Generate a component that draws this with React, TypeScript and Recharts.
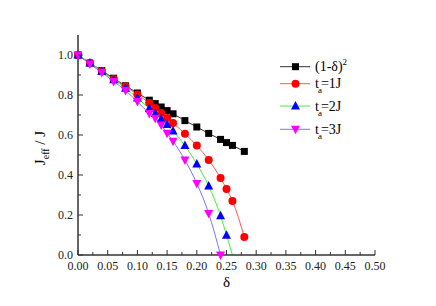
import { Label, Line, LineChart, XAxis, YAxis } from "recharts";

const delta = [0, 0.02, 0.04, 0.06, 0.08, 0.1, 0.12, 0.13, 0.14, 0.15, 0.16, 0.18, 0.2, 0.22, 0.24, 0.25, 0.26, 0.28];
const square = [1.0, 0.96, 0.922, 0.884, 0.846, 0.81, 0.774, 0.757, 0.74, 0.722, 0.706, 0.672, 0.64, 0.608, 0.578, 0.562, 0.548, 0.518];
const ta1 = [1.0, 0.96, 0.92, 0.88, 0.842, 0.803, 0.76, 0.735, 0.71, 0.685, 0.66, 0.606, 0.547, 0.475, 0.385, 0.33, 0.27, 0.09];

const delta2 = [0, 0.02, 0.04, 0.06, 0.08, 0.1, 0.12, 0.13, 0.14, 0.15, 0.16, 0.18, 0.2, 0.22, 0.24, 0.25, 0.26];
const ta2 = [1.0, 0.96, 0.918, 0.876, 0.834, 0.785, 0.733, 0.708, 0.68, 0.652, 0.62, 0.547, 0.455, 0.345, 0.196, 0.099, 0];

const delta3 = [0, 0.02, 0.04, 0.06, 0.08, 0.1, 0.12, 0.13, 0.14, 0.15, 0.16, 0.18, 0.2, 0.22, 0.24];
const ta3 = [1.0, 0.955, 0.913, 0.868, 0.822, 0.767, 0.708, 0.684, 0.65, 0.609, 0.569, 0.475, 0.358, 0.208, 0];

const xTicks = [0, 0.025, 0.05, 0.075, 0.1, 0.125, 0.15, 0.175, 0.2, 0.225, 0.25, 0.275, 0.3, 0.325, 0.35, 0.375, 0.4, 0.425, 0.45, 0.475, 0.5];
const yTicks = [0, 0.1, 0.2, 0.3, 0.4, 0.5, 0.6, 0.7, 0.8, 0.9, 1.0];

const toRows = (xs: number[], ys: number[]) => xs.map((d, i) => ({ d, v: ys[i] }));

const SERIF = { fontFamily: "'Liberation Serif', 'Times New Roman', serif" };
const AXIS = "#333";

const isMajorX = (v: number) => Math.round(v * 1000) % 50 === 0;
const isMajorY = (v: number) => Math.round(v * 10) % 2 === 0;

const Square = ({ cx, cy }: { cx: number; cy: number }) => (
  <rect x={cx - 3.5} y={cy - 3.5} width={7} height={7} fill="#000" />
);
const Dot = ({ cx, cy }: { cx: number; cy: number }) => <circle cx={cx} cy={cy} r={4} fill="#ff0000" />;
const TriUp = ({ cx, cy }: { cx: number; cy: number }) => (
  <polygon points={`${cx},${cy - 5} ${cx - 4.5},${cy + 3.5} ${cx + 4.5},${cy + 3.5}`} fill="#0000ff" />
);
const TriDown = ({ cx, cy }: { cx: number; cy: number }) => (
  <polygon points={`${cx - 4.5},${cy - 3.5} ${cx + 4.5},${cy - 3.5} ${cx},${cy + 5}`} fill="#ff00ff" />
);

const BottomTick = ({ x, y, payload }: any) => {
  const major = isMajorX(payload.value);
  return (
    <g>
      <line x1={x} x2={x} y1={y} y2={y - (major ? 5 : 3)} stroke={AXIS} />
      {major && (
        <text x={x} y={y + 6.5} dy="0.71em" textAnchor="middle" style={SERIF} fontSize={12} fill="#222">
          {payload.value.toFixed(2)}
        </text>
      )}
    </g>
  );
};
const TopTick = ({ x, y, payload }: any) => (
  <line x1={x} x2={x} y1={y} y2={y + (isMajorX(payload.value) ? 5 : 3)} stroke={AXIS} />
);
const LeftTick = ({ x, y, payload }: any) => {
  const major = isMajorY(payload.value);
  return (
    <g>
      <line x1={x} x2={x + (major ? 5 : 3)} y1={y} y2={y} stroke={AXIS} />
      {major && (
        <text x={x - 5} y={y - 0.5} dy="0.355em" textAnchor="end" style={SERIF} fontSize={12} fill="#222">
          {payload.value.toFixed(1)}
        </text>
      )}
    </g>
  );
};
const RightTick = ({ x, y, payload }: any) => (
  <line x1={x} x2={x - (isMajorY(payload.value) ? 5 : 3)} y1={y} y2={y} stroke={AXIS} />
);

const YTitle = ({ viewBox }: any) => {
  const cx = viewBox.x + 45;
  const cy = viewBox.y + viewBox.height / 2 + 3;
  return (
    <text transform={`rotate(-90 ${cx} ${cy})`} x={cx} y={cy} textAnchor="middle" style={SERIF} fontSize={15} fill="#000">
      J
      <tspan fontSize={10} dy={4}>eff</tspan>
      <tspan dy={-4}> / J</tspan>
    </text>
  );
};

const XTitle = ({ viewBox }: any) => (
  <text x={viewBox.x + viewBox.width / 2} y={viewBox.y + 32} textAnchor="middle" style={SERIF} fontSize={15} fill="#000">
    δ
  </text>
);

const legendRows = [
  { y: 66.7, color: "#333", Marker: Square, label: "(1-δ)", sup: "2" },
  { y: 83.7, color: "#ff5555", Marker: Dot, label: "t", sub: "a", rest: "=1J" },
  { y: 106, color: "#44ee44", Marker: TriUp, label: "t", sub: "a", rest: "=2J" },
  { y: 129.3, color: "#7777ff", Marker: TriDown, label: "t", sub: "a", rest: "=3J" },
];

const lineProps = { isAnimationActive: false, strokeWidth: 1, type: "monotone" as const, dataKey: "v", xAxisId: "b", yAxisId: "l" };

export default function App() {
  return (
    <div style={{ position: "absolute", left: 0, top: 0, width: 436, height: 306, background: "#fff" }}>
      <LineChart width={436} height={306} margin={{ top: 35, right: 61, bottom: 11, left: 0 }}>
        <XAxis xAxisId="b" type="number" dataKey="d" domain={[0, 0.5]} ticks={xTicks} interval={0} height={40}
          tickSize={0} tickMargin={0} tickLine={false} tick={<BottomTick />} axisLine={{ stroke: AXIS, strokeWidth: 1.5 }}>
          <Label content={<XTitle />} />
        </XAxis>
        <XAxis xAxisId="t" orientation="top" type="number" domain={[0, 0.5]} ticks={xTicks} interval={0} height={0}
          tickSize={0} tickMargin={0} tickLine={false} tick={<TopTick />} axisLine={{ stroke: AXIS, strokeWidth: 1.5 }} />
        <YAxis yAxisId="l" type="number" domain={[0, 1.1]} ticks={yTicks} interval={0} width={78}
          tickSize={0} tickMargin={0} tickLine={false} tick={<LeftTick />} axisLine={{ stroke: AXIS, strokeWidth: 1.5 }}>
          <Label content={<YTitle />} />
        </YAxis>
        <YAxis yAxisId="r" orientation="right" type="number" domain={[0, 1.1]} ticks={yTicks} interval={0} width={0}
          tickSize={0} tickMargin={0} tickLine={false} tick={<RightTick />} axisLine={{ stroke: AXIS, strokeWidth: 1.5 }} />
        <Line {...lineProps} data={toRows(delta, square)} stroke="#333"
          dot={(p: any) => <Square key={p.index} cx={p.cx} cy={p.cy} />} />
        <Line {...lineProps} data={toRows(delta, ta1)} stroke="#ff5555"
          dot={(p: any) => <Dot key={p.index} cx={p.cx} cy={p.cy} />} />
        <Line {...lineProps} data={toRows(delta2, ta2)} stroke="#44ee44"
          dot={(p: any) => (p.value > 0 ? <TriUp key={p.index} cx={p.cx} cy={p.cy} /> : <g key={p.index} />)} />
        <Line {...lineProps} data={toRows(delta3, ta3)} stroke="#7777ff"
          dot={(p: any) => <TriDown key={p.index} cx={p.cx} cy={p.cy} />} />
      </LineChart>
      <svg width={436} height={306} style={{ position: "absolute", left: 0, top: 0, pointerEvents: "none" }}>
        {legendRows.map((r) => (
          <g key={r.y}>
            <line x1={280} x2={310} y1={r.y} y2={r.y} stroke={r.color} strokeWidth={1} />
            <r.Marker cx={295.5} cy={r.y} />
            <text x={315} y={r.y + 4.7} style={SERIF} fontSize={14} fill="#000">
              {r.label}
              {r.sup && <tspan fontSize={9} dy={-6}>{r.sup}</tspan>}
              {r.sub && <tspan fontSize={9} dy={5} dx={-1}>{r.sub}</tspan>}
              {r.rest && <tspan dy={-5} dx={-1}>{r.rest}</tspan>}
            </text>
          </g>
        ))}
      </svg>
    </div>
  );
}
